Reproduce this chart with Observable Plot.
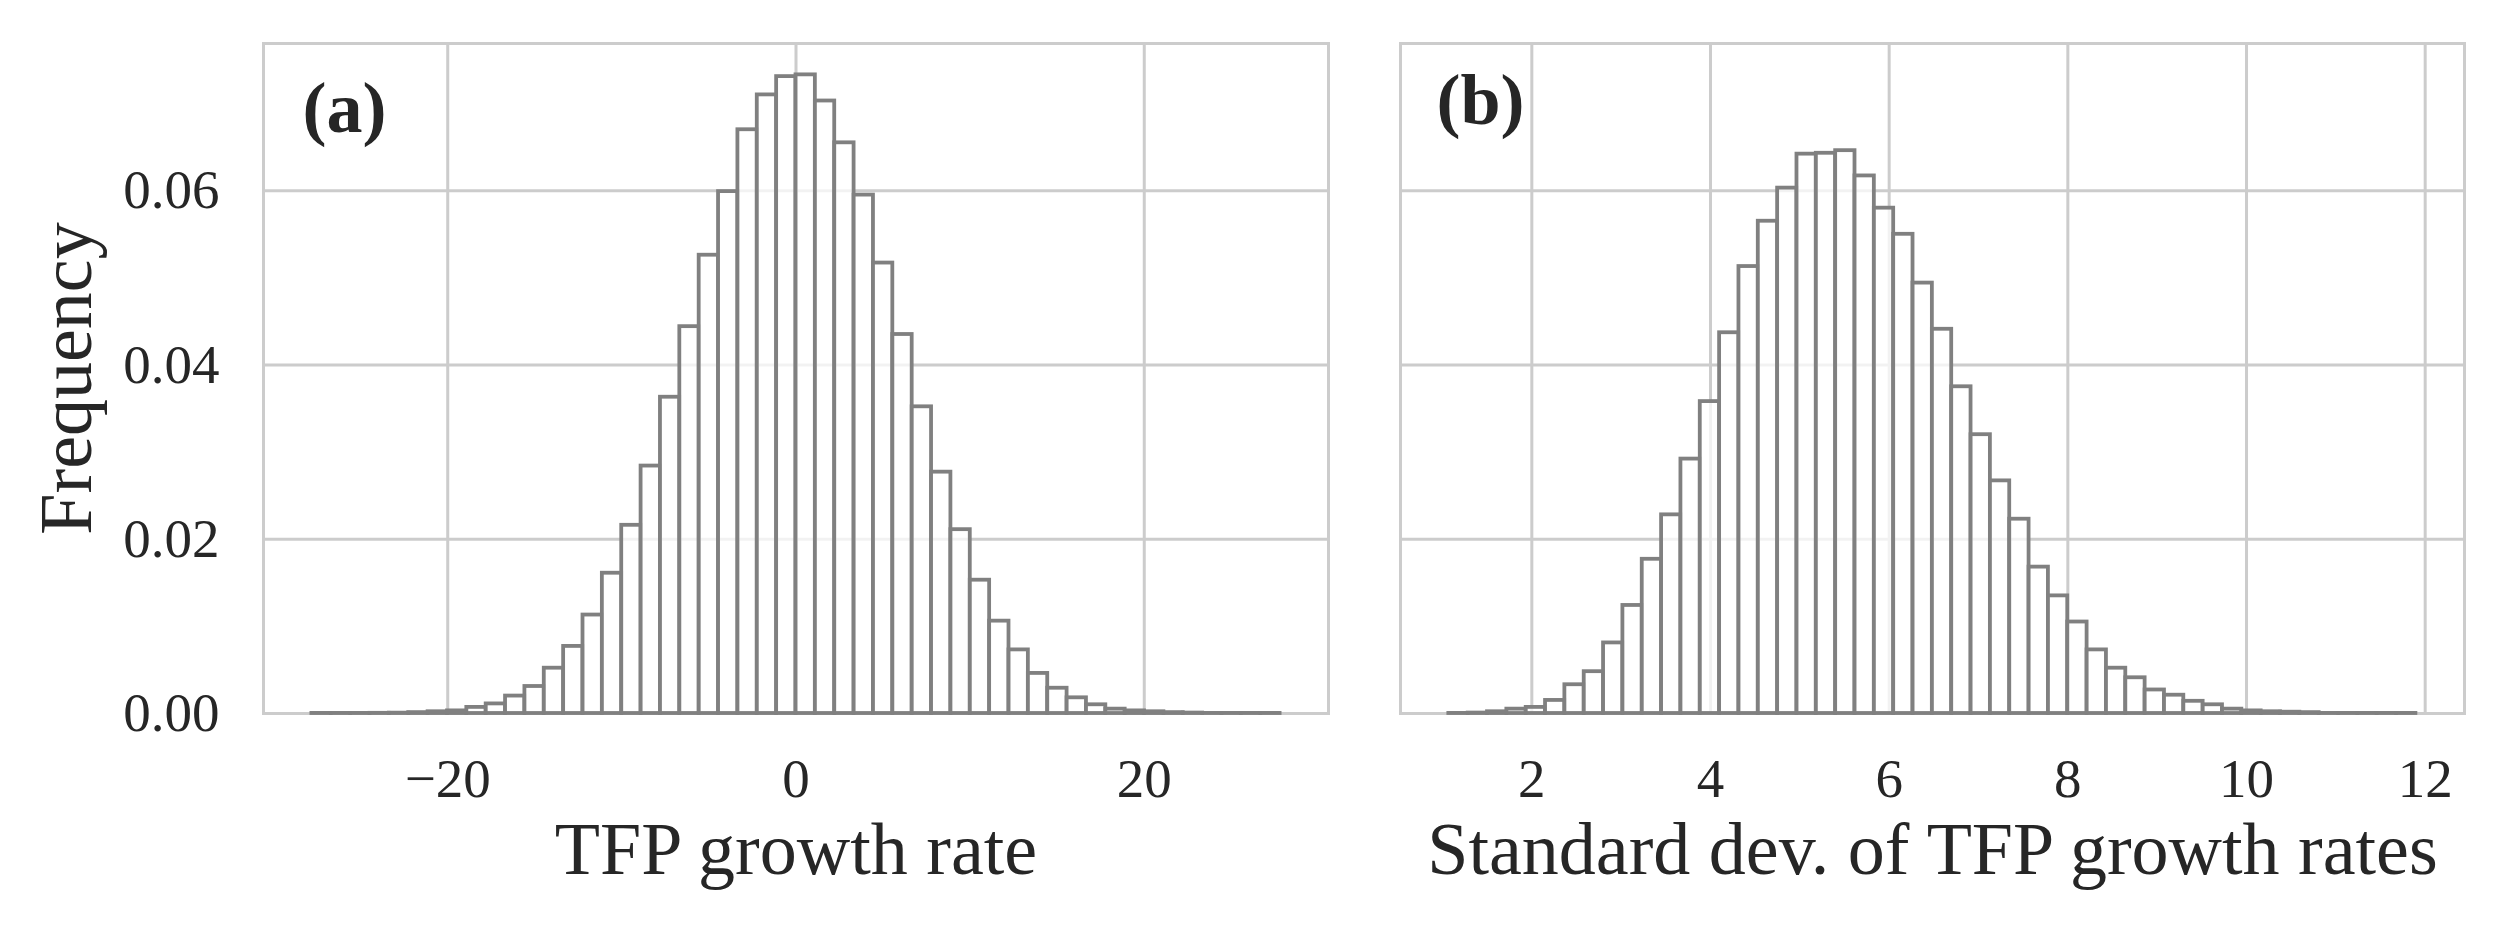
<!DOCTYPE html>
<html>
<head>
<meta charset="utf-8">
<script src="https://cdn.jsdelivr.net/npm/d3@7"></script>
<script src="https://cdn.jsdelivr.net/npm/@observablehq/plot@0.6"></script>
<style>
  html, body { margin: 0; padding: 0; background: #ffffff; }
  #wrap { display: flex; flex-wrap: nowrap; width: 2506px; height: 926px; }
  svg { overflow: visible; }
</style>
</head>
<body>
<div id="wrap"></div>
<script>
// ---------- data ----------
// Panel (a): TFP growth rate histogram (50 equal bins between these limits)
const tfpLo = -27.8;
const tfpHi = 27.8;
const tfpFreq = [
  0.00001, 0.00001, 0.00001, 0.00002, 0.00004, 0.0001, 0.0002, 0.0003, 0.0007, 0.0011,
  0.0020, 0.0031, 0.0052, 0.0077, 0.0113, 0.0161, 0.0216, 0.0284, 0.0363, 0.0444,
  0.0526, 0.0599, 0.0670, 0.0710, 0.0731, 0.0733, 0.0703, 0.0655, 0.0595, 0.0517,
  0.0435, 0.0352, 0.0277, 0.0211, 0.0153, 0.0106, 0.0073, 0.0046, 0.0029, 0.0018,
  0.0010, 0.0005, 0.0003, 0.0002, 0.0001, 0.00005, 0.00001, 0.00001, 0.00001, 0.00001
];
// Panel (b): standard deviation of TFP growth rates histogram
const sdLo = 1.071;
const sdHi = 11.896;
const sdFreq = [
  0.00001, 0.00005, 0.0002, 0.0005, 0.0007, 0.0015, 0.0033, 0.0048, 0.0081, 0.0124,
  0.0177, 0.0228, 0.0292, 0.0358, 0.0437, 0.0513, 0.0565, 0.0603, 0.0642, 0.0643,
  0.0646, 0.0617, 0.0580, 0.0550, 0.0494, 0.0441, 0.0375, 0.0320, 0.0267, 0.0223,
  0.0168, 0.0135, 0.0105, 0.0073, 0.0052, 0.0041, 0.0027, 0.0021, 0.0014, 0.0010,
  0.0005, 0.0003, 0.0002, 0.00015, 0.0001, 0.00001, 0.00001, 0.00001, 0.00001, 0.00001
];
const yTicks = [0, 0.02, 0.04, 0.06];
const xTicksA = [-20, 0, 20];
const xTicksB = [2, 4, 6, 8, 10, 12];
const xDomainA = [-30.58, 30.58];
const xDomainB = [0.53, 12.44];
const yDomain = [0, 0.0769];
const labelA = "TFP growth rate";
const labelB = "Standard dev. of TFP growth rates";
const labelY = "Frequency";
const panelA = "(a)";
const panelB = "(b)";

// ---------- helpers ----------
function bins(lo, hi, freq) {
  const w = (hi - lo) / freq.length;
  return freq.map((f, i) => ({x1: lo + i * w, x2: lo + (i + 1) * w, y: f}));
}
const fmtNum = d => (d < 0 ? "\u2212" + Math.abs(d) : String(d));

const FONT = "'Liberation Serif', 'DejaVu Serif', serif";
const TXT = "#262626";
const GRID = "#cccccc";
const BAR = "#808080";
const TICK_FS = 55;
const LABEL_FS = 74;
const PANEL_FS = 72;

const common = {
  height: 926,
  marginTop: 43,
  marginBottom: 213,
  style: {fontFamily: FONT, fontSize: TICK_FS + "px", color: TXT, background: "#ffffff", overflow: "visible"},
  y: {domain: yDomain}
};

function histMarks(data) {
  return Plot.rectY(data, {
    x1: "x1", x2: "x2", y: "y",
    fill: "#ffffff", fillOpacity: 0.75,
    stroke: BAR, strokeWidth: 3.8
  });
}

const gridOpts = {stroke: GRID, strokeOpacity: 1, strokeWidth: 3};

const plotA = Plot.plot({
  ...common,
  width: 1364,
  marginLeft: 263,
  marginRight: 36,
  x: {domain: xDomainA},
  marks: [
    Plot.gridX(xTicksA, gridOpts),
    Plot.gridY(yTicks, gridOpts),
    Plot.frame({stroke: GRID, strokeWidth: 3}),
    histMarks(bins(tfpLo, tfpHi, tfpFreq)),
    Plot.axisX({ticks: xTicksA, tickFormat: fmtNum, tickSize: 0, tickPadding: 44, label: null, fontSize: TICK_FS, fill: TXT}),
    Plot.axisY({ticks: yTicks, tickFormat: d3.format(".2f"), tickSize: 0, tickPadding: 44, label: null, fontSize: TICK_FS, fill: TXT}),
    Plot.text([labelA], {text: d => d, frameAnchor: "bottom", dy: 137, textAnchor: "middle", lineAnchor: "middle", fontSize: LABEL_FS, fill: TXT}),
    Plot.text([labelY], {text: d => d, frameAnchor: "left", dx: -196, rotate: -90, textAnchor: "middle", lineAnchor: "middle", fontSize: LABEL_FS, fill: TXT}),
    Plot.text([panelA], {text: d => d, frameAnchor: "top-left", dx: 39, dy: 65, textAnchor: "start", lineAnchor: "middle", fontWeight: "bold", fontSize: PANEL_FS, fill: TXT})
  ]
});

const plotB = Plot.plot({
  ...common,
  width: 1142,
  marginLeft: 36,
  marginRight: 42,
  x: {domain: xDomainB},
  marks: [
    Plot.gridX(xTicksB, gridOpts),
    Plot.gridY(yTicks, gridOpts),
    Plot.frame({stroke: GRID, strokeWidth: 3}),
    histMarks(bins(sdLo, sdHi, sdFreq)),
    Plot.axisX({ticks: xTicksB, tickFormat: fmtNum, tickSize: 0, tickPadding: 44, label: null, fontSize: TICK_FS, fill: TXT}),
    Plot.axisY({ticks: [], label: null}),
    Plot.text([labelB], {text: d => d, frameAnchor: "bottom", dy: 137, textAnchor: "middle", lineAnchor: "middle", fontSize: LABEL_FS, fill: TXT}),
    Plot.text([panelB], {text: d => d, frameAnchor: "top-left", dx: 36, dy: 57, textAnchor: "start", lineAnchor: "middle", fontWeight: "bold", fontSize: PANEL_FS, fill: TXT})
  ]
});

const wrap = document.getElementById("wrap");
wrap.appendChild(plotA);
wrap.appendChild(plotB);
</script>
</body>
</html>
